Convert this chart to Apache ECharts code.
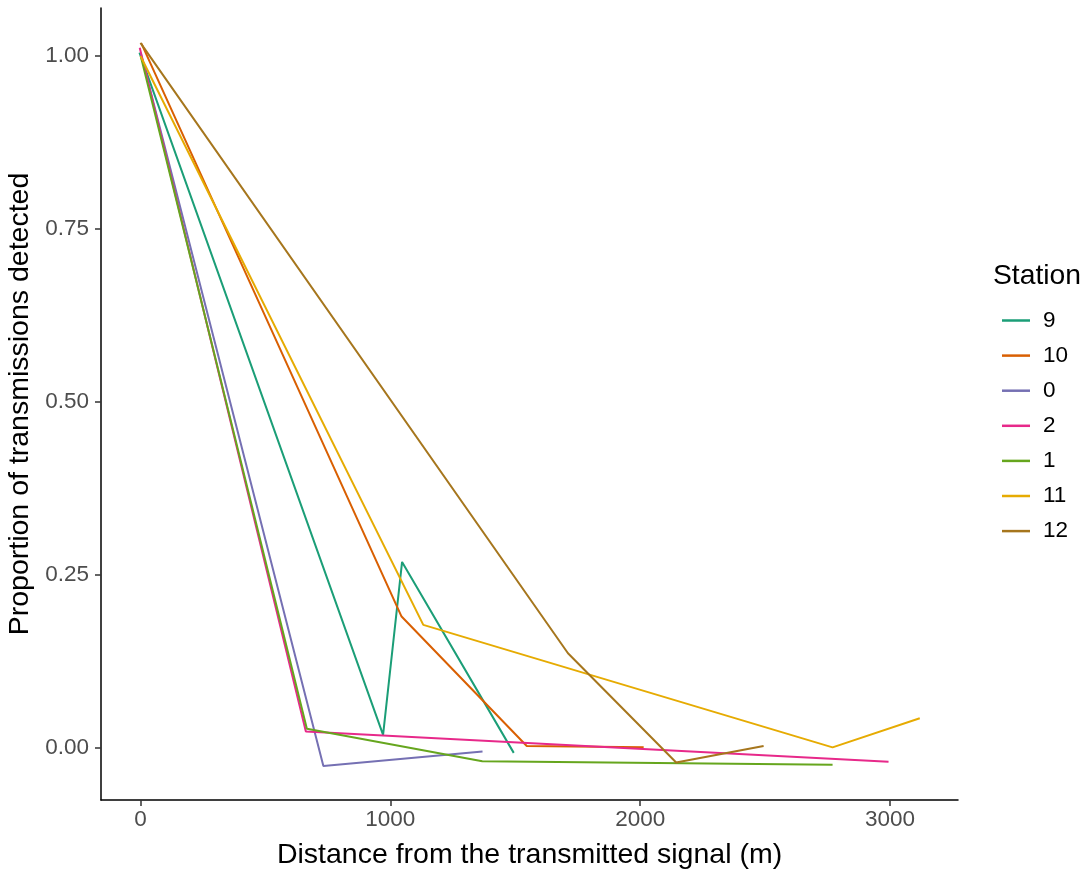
<!DOCTYPE html>
<html>
<head>
<meta charset="utf-8">
<script src="https://cdn.jsdelivr.net/npm/echarts@6/dist/echarts.min.js"></script>
<style>
  html, body { margin: 0; padding: 0; background: #fff; }
  #chart { width: 1088px; height: 871px; }
</style>
</head>
<body>
<div id="chart"></div>
<script>
// Detection range test: proportion of transmissions heard vs. distance, per station
const stationNames = ['9', '10', '0', '2', '1', '11', '12'];
const stationColors = ['#1B9E77', '#D95F02', '#7570B3', '#E7298A', '#66A61E', '#E6AB02', '#A6761D'];

const dist9  = [-4, 971, 1047, 1494];
const prop9  = [1.005, 0.019, 0.269, -0.007];
const dist10 = [4, 1045, 1546, 2014];
const prop10 = [1.018, 0.190, 0.003, 0.001];
const dist0  = [2, 732, 1369];
const prop0  = [1.003, -0.026, -0.005];
const dist2  = [-3, 662, 2994];
const prop2  = [1.012, 0.024, -0.020];
const dist1  = [3, 666, 1368, 2770];
const prop1  = [0.997, 0.028, -0.019, -0.024];
const dist11 = [0, 1132, 2770, 3119];
const prop11 = [1.000, 0.178, 0.001, 0.043];
const dist12 = [0, 1711, 2144, 2494];
const prop12 = [1.019, 0.137, -0.021, 0.003];

const xTicks = [0, 1000, 2000, 3000];
const yTicks = [0, 0.25, 0.5, 0.75, 1.0];

const distances = [dist9, dist10, dist0, dist2, dist1, dist11, dist12];
const proportions = [prop9, prop10, prop0, prop2, prop1, prop11, prop12];

const series = stationNames.map((name, i) => ({
  name: name,
  type: 'line',
  data: distances[i].map((d, j) => [d, proportions[i][j]]),
  symbol: 'none',
  lineStyle: { color: stationColors[i], width: 2 },
  itemStyle: { color: stationColors[i] },
  animation: false
}));

const font = 'Liberation Sans, Arial, sans-serif';
const chart = echarts.init(document.getElementById('chart'), null, { renderer: 'canvas' });
chart.setOption({
  backgroundColor: '#fff',
  animation: false,
  grid: { left: 101, right: 130, top: 8, bottom: 71, containLabel: false, outerBoundsMode: 'none' },
  xAxis: {
    type: 'value',
    min: -158, max: 3272,
    name: 'Distance from the transmitted signal (m)',
    nameLocation: 'middle',
    nameGap: 41,
    nameTextStyle: { fontFamily: font, fontSize: 28.5, color: '#000' },
    splitLine: { show: false },
    axisLine: { show: true, onZero: false, lineStyle: { color: '#000', width: 1.5 } },
    axisTick: { show: true, length: 6, customValues: xTicks, lineStyle: { color: '#333', width: 1.5 } },
    axisLabel: { customValues: xTicks, margin: 6, padding: [2, 0, 0, 0], fontFamily: font, fontSize: 22.5, color: '#4D4D4D',
      formatter: v => String(Math.round(v)) }
  },
  yAxis: {
    type: 'value',
    min: -0.0751, max: 1.0694,
    name: 'Proportion of transmissions detected',
    nameLocation: 'middle',
    nameRotate: 90,
    nameGap: 63,
    nameTextStyle: { fontFamily: font, fontSize: 28.5, color: '#000' },
    splitLine: { show: false },
    axisLine: { show: true, onZero: false, lineStyle: { color: '#000', width: 1.5 } },
    axisTick: { show: true, length: 6, customValues: yTicks, lineStyle: { color: '#333', width: 1.5 } },
    axisLabel: { customValues: yTicks, margin: 12, padding: [4, 0, 0, 0], fontFamily: font, fontSize: 22.5, color: '#4D4D4D',
      formatter: v => v.toFixed(2) }
  },
  legend: {
    orient: 'vertical',
    left: 997,
    top: 304,
    icon: 'rect',
    itemWidth: 28,
    itemHeight: 2.5,
    itemGap: 12.1,
    data: stationNames,
    textStyle: { fontFamily: font, fontSize: 22.5, color: '#000', lineHeight: 23, padding: [0, 0, 0, 8] }
  },
  graphic: [{
    type: 'text',
    left: 993,
    top: 262,
    style: { text: 'Station', font: '28.3px ' + font, fill: '#000' }
  }],
  series: series
});
</script>
</body>
</html>
